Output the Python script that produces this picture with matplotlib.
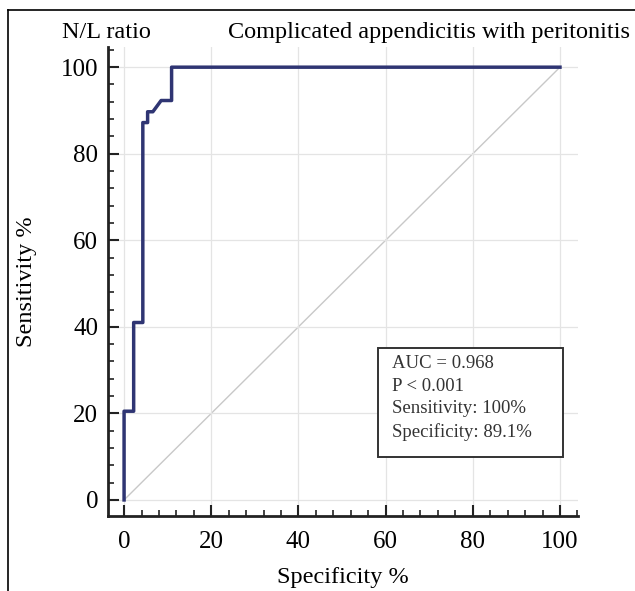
import matplotlib.pyplot as plt
from matplotlib.lines import Line2D
from matplotlib.patches import Rectangle
from matplotlib.ticker import MultipleLocator

plt.rcParams['font.family'] = ['Liberation Serif', 'DejaVu Serif']

# ROC curve points (100 - specificity, sensitivity)
fpr = [0, 0, 2.2, 2.2, 4.3, 4.3, 5.4, 5.4, 6.6, 8.5, 10.9, 10.9, 100]
tpr = [0, 20.5, 20.5, 41.0, 41.0, 87.2, 87.2, 89.7, 89.7, 92.3, 92.3, 100, 100]

marker_name = "N/L ratio"
outcome = "Complicated appendicitis with peritonitis"
stats_lines = ["AUC = 0.968", "P < 0.001", "Sensitivity: 100%", "Specificity: 89.1%"]

fig = plt.figure(figsize=(6.35, 5.91), dpi=100)
ax = fig.add_axes([0.170, 0.127, 0.740, 0.793])

ax.plot([0, 100], [0, 100], color='#c8c8c8', lw=1.0, zorder=1)
ax.plot(fpr, tpr, color='#2f3573', lw=2.5, zorder=3)

ax.set_xlim(-3.7, 104.1)
ax.set_ylim(-3.7, 104.6)
ax.xaxis.set_major_locator(MultipleLocator(20))
ax.yaxis.set_major_locator(MultipleLocator(20))
ax.xaxis.set_minor_locator(MultipleLocator(4))
ax.yaxis.set_minor_locator(MultipleLocator(4))
ax.tick_params(which='major', direction='in', length=8, width=1.5, labelsize=18, color='#222222')
ax.tick_params(which='minor', direction='in', length=4, width=1.2, color='#222222')
ax.tick_params(axis='x', which='major', pad=11)
ax.tick_params(axis='y', which='major', pad=7)
ax.grid(True, which='major', color='#e4e4e4', lw=0.9, zorder=0)

for s in ['top', 'right']:
    ax.spines[s].set_visible(False)
for s in ['left', 'bottom']:
    ax.spines[s].set_linewidth(2.0)
    ax.spines[s].set_color('#222222')

ax.set_xlabel("Specificity %", fontsize=17.5, labelpad=10)
ax.set_ylabel("Sensitivity %", fontsize=17.5, labelpad=17)

ax.add_patch(Rectangle((0.574, 0.126), 0.394, 0.232, transform=ax.transAxes,
                       fc='white', ec='#333333', lw=1.4, zorder=5))
ax.text(0.604, 0.343, "\n".join(stats_lines), transform=ax.transAxes,
        fontsize=13.5, va='top', ha='left', linespacing=1.42, color='#333333',
        zorder=6)

fig.text(0.098, 0.945, marker_name, fontsize=17.5, va='center', ha='left')
fig.text(0.359, 0.945, outcome, fontsize=17.5, va='center', ha='left')

# thin frame around the figure (top and left edges)
fig.add_artist(Line2D([8 / 635, 1], [1 - 10 / 591, 1 - 10 / 591], color='black', lw=1.2))
fig.add_artist(Line2D([8 / 635, 8 / 635], [0, 1 - 10 / 591], color='black', lw=1.2))

fig.savefig("out.png", dpi=100)
